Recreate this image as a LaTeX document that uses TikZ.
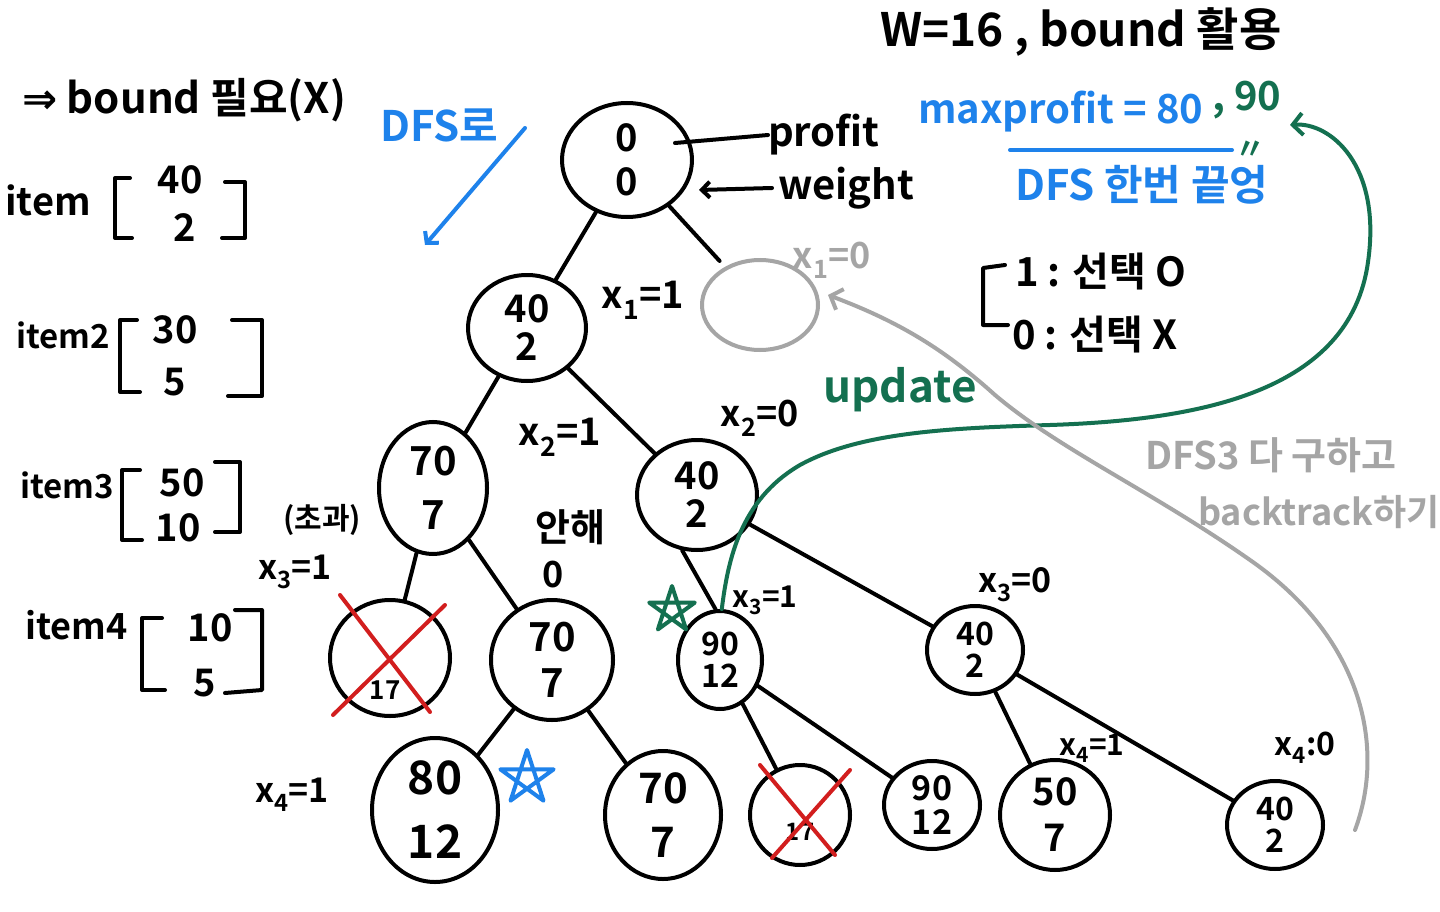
\documentclass[tikz,border=0pt]{standalone}
\usepackage{fontspec}
\setmainfont{Noto Sans CJK KR}[BoldFont={Noto Sans CJK KR Bold}]
\newfontfamily\symf{DejaVu Sans}
\usetikzlibrary{shapes.geometric,arrows.meta,calc}
\definecolor{pblue}{RGB}{30,130,235}
\definecolor{pgreen}{RGB}{20,112,80}
\definecolor{pgray}{RGB}{165,165,165}
\definecolor{pred}{RGB}{210,30,30}
\newcommand{\fs}[1]{\fontsize{#1}{#1}\selectfont}
\begin{document}
\begin{tikzpicture}[x=1pt,y=-1pt,
  every node/.style={inner sep=0pt},
  nd/.style={draw,ellipse,line width=4pt,align=center,font=\fs{38}\bfseries},
  edge/.style={line width=4pt,line cap=round},
  txt/.style={font=\fs{40}\bfseries},
  gtxt/.style={font=\fs{40}\bfseries,text=pgray},
  btxt/.style={font=\fs{42}\bfseries,text=pblue},
  brk/.style={line width=4pt,line cap=round,line join=round},
  cross/.style={line width=4pt,draw=pred,line cap=round},
  gline/.style={line width=4pt,draw=pgreen,line cap=round},
  grline/.style={line width=4pt,draw=pgray,line cap=round},
  bline/.style={line width=4pt,draw=pblue,line cap=round}]
\useasboundingbox[fill=white] (0,0) rectangle (1440,912);

% ---------- tree nodes ----------
\node[nd,minimum width=130,minimum height=114] (r) at (627,160) {0\\[6pt]0};
\node[nd,draw=pgray,minimum width=116,minimum height=90] (g) at (760,305) {};
\node[nd,minimum width=118,minimum height=106] (a) at (527,328) {40\\2};
\node[nd,minimum width=108,minimum height=132,font=\fs{40}\bfseries] (b) at (433,488) {70\\[14pt]7};
\node[nd,minimum width=120,minimum height=110] (c) at (697,495) {40\\2};
\node[nd,minimum width=120,minimum height=116] (d) at (390,658) {};
\node[nd,minimum width=122,minimum height=120,font=\fs{40}\bfseries] (e) at (552,660) {70\\[6pt]7};
\node[nd,minimum width=84,minimum height=98,font=\fs{32}\bfseries] (f) at (720,660) {90\\12};
\node[nd,minimum width=96,minimum height=88,font=\fs{32}\bfseries] (h) at (975,650) {40\\2};
\node[nd,minimum width=126,minimum height=144,font=\fs{46}\bfseries] (i) at (435,810) {80\\[18pt]12};
\node[nd,minimum width=116,minimum height=128,font=\fs{42}\bfseries] (j) at (663,815) {70\\[12pt]7};
\node[nd,minimum width=100,minimum height=100] (k) at (800,815) {};
\node[nd,minimum width=96,minimum height=88,font=\fs{34}\bfseries] (l) at (932,805) {90\\12};
\node[nd,minimum width=110,minimum height=110,font=\fs{38}\bfseries] (m) at (1055,815) {50\\[8pt]7};
\node[nd,minimum width=96,minimum height=88,font=\fs{32}\bfseries] (o) at (1275,825) {40\\2};

% hidden values under crosses
\node[font=\fs{26}\bfseries] (dv) at (385,690) {17};
\node[font=\fs{24}\bfseries] (kv) at (800,832) {17};

% ---------- tree edges ----------
\draw[edge] (r) -- (a);
\draw[edge,shorten >=8pt] (r) -- (g);
\draw[edge] (a) -- (b);
\draw[edge] (a) -- (c);
\draw[edge] (b) -- (d);
\draw[edge] (b) -- (e);
\draw[edge] (c.-105) -- (f.95);
\draw[edge] (c) -- (h);
\draw[edge] (e) -- (i);
\draw[edge] (e) -- (j);
\draw[edge] (f) -- (k);
\draw[edge] (f) -- (l);
\draw[edge] (h) -- (m);
\draw[edge] (h) -- (o);

% ---------- crosses ----------
\draw[cross] ($(d)+(-50,-63)$) -- ($(d)+(40,54)$);
\draw[cross] ($(d)+(55,-53)$) -- ($(d)+(-57,57)$);
\draw[cross] ($(k)+(-40,-50)$) -- ($(k)+(35,40)$);
\draw[cross] ($(k)+(50,-45)$) -- ($(k)+(-28,43)$);

% ---------- edge labels ----------
\node[txt,font=\fs{38}\bfseries] (l1) at (643,300) {x\textsubscript{1}=1};
\node[gtxt,font=\fs{36}\bfseries] (l2) at (832,260) {x\textsubscript{1}=0};
\node[txt,font=\fs{38}\bfseries] (l3) at (560,437) {x\textsubscript{2}=1};
\node[txt,font=\fs{36}\bfseries] (l4) at (760,418) {x\textsubscript{2}=0};
\node[txt,font=\fs{30}\bfseries] (l5) at (322,520) {(초과)};
\node[txt,font=\fs{34}\bfseries] (l6) at (295,572) {x\textsubscript{3}=1};
\node[txt,font=\fs{38}\bfseries] (l7) at (570,527) {안해};
\node[txt,font=\fs{36}\bfseries] (l7b) at (553,575) {0};
\node[txt,font=\fs{30}\bfseries] (l8) at (765,600) {x\textsubscript{3}=1};
\node[txt,font=\fs{34}\bfseries] (l9) at (1015,585) {x\textsubscript{3}=0};
\node[txt,font=\fs{34}\bfseries] (l10) at (292,795) {x\textsubscript{4}=1};
\node[txt,font=\fs{30}\bfseries] (l11) at (1092,748) {x\textsubscript{4}=1};
\node[txt,font=\fs{32}\bfseries] (l12) at (1305,748) {x\textsubscript{4}:0};

% ---------- annotations ----------
\node[txt,anchor=west] (profit) at (768,135) {profit};
\node[txt,anchor=west] (weight) at (778,188) {weight};
\draw[edge] ($(r)+(48,-17)$) -- (profit.west);
\draw[edge,-{Straight Barb[length=8pt,width=16pt]}] ([xshift=-6pt]weight.west) -- ($(r)+(72,30)$);

\node[btxt,anchor=west] (dfs) at (380,125) {DFS로};
\coordinate (da1) at (525,128);
\coordinate (da2) at (425,245);
\draw[bline,-{Straight Barb[length=8pt,width=18pt]}] (da1) -- (da2);

\node[txt,anchor=west,font=\fs{46}\bfseries] (wt) at (880,32) {W=16 , bound 활용};
\node[txt,anchor=west,font=\fs{42}\bfseries] (nb) at (22,100) {{\symf ⇒} bound 필요(X)};

\node[btxt,anchor=west,font=\fs{40}\bfseries] (mp) at (918,112) {maxprofit = 80};
\node[txt,anchor=west,text=pgreen,font=\fs{40}\bfseries] (mp2) at (1212,100) {, 90};
\coordinate (u1) at (1010,150);
\coordinate (u2) at (1232,150);
\draw[bline] (u1) -- (u2);
\node[txt,text=pgreen,font=\fs{30}\bfseries] (ditto) at (1250,150) {〃};
\node[btxt,anchor=west] (dfsone) at (1015,185) {DFS 한번 끝엉};

\coordinate (lb1) at (1005,265);
\coordinate (lb2) at (983,268);
\coordinate (lb3) at (983,325);
\coordinate (lb4) at (1008,325);
\draw[brk] (lb1) -- (lb2) -- (lb3) -- (lb4);
\node[txt,anchor=west] (sel1) at (1015,272) {1 : 선택 O};
\node[txt,anchor=west] (sel0) at (1012,335) {0 : 선택 X};

\node[txt,text=pgreen,font=\fs{44}\bfseries] (upd) at (900,390) {update};
\node[gtxt,anchor=west,font=\fs{38}\bfseries] (bt1) at (1145,455) {DFS3 다 구하고};
\node[gtxt,anchor=west,font=\fs{36}\bfseries] (bt2) at (1198,512) {backtrack하기};

% green update curve
\coordinate (gend) at (1290,125);
\draw[gline,-{Straight Barb[length=10pt,width=22pt]}] (f.88) .. controls (728,560) and (740,500) .. (800,465)
  .. controls (860,432) and (950,428) .. (1050,425)
  .. controls (1200,420) and (1350,392) .. (1368,262)
  .. controls (1382,165) and (1330,122) .. (gend);
% gray backtrack curve
\coordinate (gst) at (1355,830);
\draw[grline,-{Straight Barb[length=10pt,width=22pt]}] (gst) .. controls (1385,750) and (1365,640) .. (1250,560)
  .. controls (1150,490) and (1060,450) .. (995,395)
  .. controls (945,350) and (900,322) .. ([xshift=8pt,yshift=10pt]g.east);

% ---------- stars ----------
\coordinate (s1) at (672,610);
\draw[gline,line join=round] ($(s1)+(270:24)$) -- ($(s1)+(54:24)$) -- ($(s1)+(198:24)$) -- ($(s1)+(342:24)$) -- ($(s1)+(126:24)$) -- cycle;
\coordinate (s2) at (527,778);
\draw[bline,line join=round] ($(s2)+(270:28)$) -- ($(s2)+(54:28)$) -- ($(s2)+(198:28)$) -- ($(s2)+(342:28)$) -- ($(s2)+(126:28)$) -- cycle;

% ---------- items ----------
\node[txt,anchor=west,font=\fs{38}\bfseries] (it1) at (5,200) {item};
\node[txt,font=\fs{38}\bfseries] (v1a) at (180,180) {40};
\node[txt,font=\fs{38}\bfseries] (v1b) at (185,228) {2};
\draw[brk] (130,178) -- (115,178) -- (115,238) -- (132,238);
\draw[brk] (225,182) -- (245,182) -- (245,238) -- (222,238);

\node[txt,anchor=west,font=\fs{33}\bfseries] (it2) at (16,335) {item2};
\node[txt,font=\fs{38}\bfseries] (v2a) at (175,330) {30};
\node[txt,font=\fs{38}\bfseries] (v2b) at (175,382) {5};
\draw[brk] (137,320) -- (120,320) -- (120,392) -- (140,392);
\draw[brk] (232,320) -- (262,320) -- (262,396) -- (228,396);

\node[txt,anchor=west,font=\fs{33}\bfseries] (it3) at (20,485) {item3};
\node[txt,font=\fs{38}\bfseries] (v3a) at (182,483) {50};
\node[txt,font=\fs{38}\bfseries] (v3b) at (178,528) {10};
\draw[brk] (140,470) -- (122,470) -- (122,540) -- (142,540);
\draw[brk] (215,462) -- (240,462) -- (240,532) -- (215,532);

\node[txt,anchor=west,font=\fs{36}\bfseries] (it4) at (25,625) {item4};
\node[txt,font=\fs{38}\bfseries] (v4a) at (210,628) {10};
\node[txt,font=\fs{38}\bfseries] (v4b) at (205,683) {5};
\draw[brk] (162,618) -- (142,618) -- (142,690) -- (165,690);
\draw[brk] (235,610) -- (262,610) -- (262,690) -- (225,693);
\end{tikzpicture}
\end{document}
